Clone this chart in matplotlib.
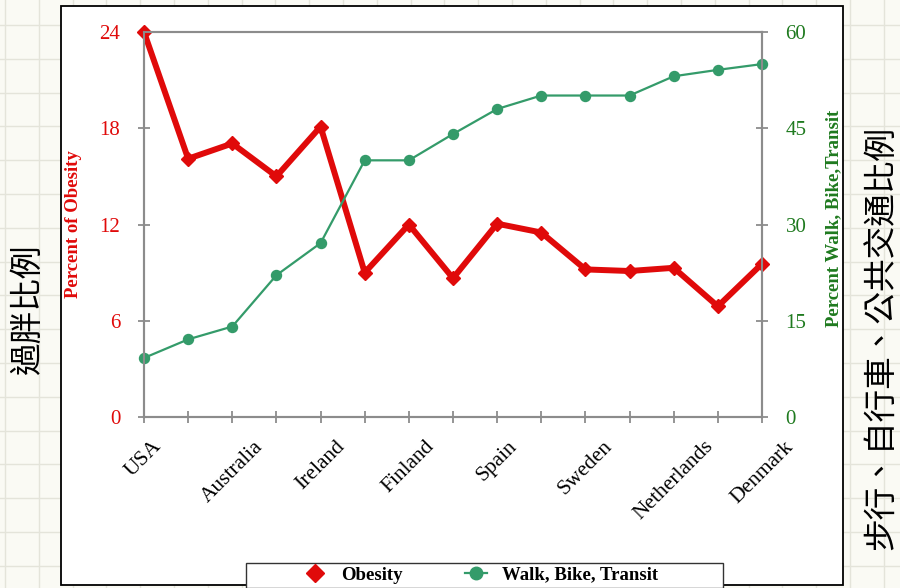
import numpy as np
import matplotlib.pyplot as plt
from matplotlib.patches import Rectangle
from matplotlib.lines import Line2D

countries = ["USA", "", "Australia", "", "Ireland", "", "Finland", "",
             "Spain", "", "Sweden", "", "Netherlands", "", "Denmark"]
obesity = [24.0, 16.1, 17.05, 15.0, 18.1, 9.0, 12.0, 8.65, 12.05, 11.5,
           9.2, 9.1, 9.3, 6.9, 9.55]
active = [9.2, 12.1, 14.1, 22.1, 27.1, 40.0, 40.0, 44.1, 48.0, 50.1,
          50.1, 50.1, 53.1, 54.1, 55.0]
left_ticks = [0, 6, 12, 18, 24]
right_ticks = [0, 15, 30, 45, 60]

RED = "#e00a0a"
GREEN = "#349b6a"
GREEN_TXT = "#1f7a1f"
AXGRAY = "#8c8c8c"
serif = "Liberation Serif"
cjk = ["Noto Sans CJK TC", "DejaVu Sans"]

W, H = 900, 588
fig = plt.figure(figsize=(9, 5.88), dpi=100)
fig.patch.set_facecolor("#fafaf4")

# graph-paper background
for gx in np.arange(5, W, 33.8):
    fig.add_artist(Line2D([gx / W, gx / W], [0, 1], color="#e4e4da", lw=1, zorder=-3))
for gy in np.arange(25, H, 33.8):
    fig.add_artist(Line2D([0, 1], [1 - gy / H, 1 - gy / H], color="#e4e4da", lw=1, zorder=-3))

# white chart box
fig.add_artist(Rectangle((61 / W, 1 - 585 / H), 782 / W, 579 / H, facecolor="white",
                         edgecolor="black", lw=1.3, zorder=-2))

ax = fig.add_axes([144 / W, 1 - 417 / H, 618 / W, 385 / H])
ax.set_facecolor("none")
ax2 = ax.twinx()

x = np.arange(len(countries))
ax.plot(x, obesity, color=RED, lw=4.3, marker="D", ms=7.5, zorder=3,
        solid_joinstyle="miter", clip_on=False)
ax2.plot(x, active, color=GREEN, lw=1.6, marker="o", ms=7.2, clip_on=False)

ax.set_xlim(0, len(countries) - 1)
ax.set_ylim(0, 24)
ax2.set_ylim(0, 60)
ax.set_yticks(left_ticks)
ax2.set_yticks(right_ticks)
ax.set_xticks(x)
ax.set_xticklabels(countries, rotation=45, ha="center", va="top",
                   fontsize=15.5, family=serif)

for a in (ax, ax2):
    for s in a.spines.values():
        s.set_color(AXGRAY)
        s.set_linewidth(1.5)

ax.tick_params(axis="x", direction="inout", length=8, width=1.3, color=AXGRAY, pad=10.5)
ax.tick_params(axis="y", direction="inout", length=8, width=1.3, color=AXGRAY,
               labelcolor=RED, labelsize=15, pad=13)
ax2.tick_params(axis="y", direction="inout", length=8, width=1.3, color=AXGRAY,
                labelcolor=GREEN_TXT, labelsize=15, pad=13)
for lab in ax.get_yticklabels() + ax2.get_yticklabels():
    lab.set_family(serif)

fig.text(73 / W, 1 - 224 / H, "Percent of Obesity", rotation=90, ha="center",
         va="center", color=RED, fontsize=13.5, fontweight="bold", family=serif)
fig.text(834 / W, 1 - 218 / H, "Percent Walk, Bike,Transit", rotation=90,
         ha="center", va="center", color=GREEN_TXT, fontsize=13.5,
         fontweight="bold", family=serif)

fig.text(28 / W, 1 - 310 / H, "過胖比例", rotation=90, ha="center", va="center",
         fontsize=23.5, family=cjk)
fig.text(882 / W, 1 - 338 / H, "步行、自行車、公共交通比例", rotation=90,
         ha="center", va="center", fontsize=23.5, family=cjk)

# legend: frame drawn separately, entries centred inside it
fig.add_artist(Rectangle((246 / W, 1 - 588 / H), 477 / W, 25 / H, facecolor="white",
                         edgecolor="#333333", lw=1.0, zorder=5))
handles = [Line2D([], [], color=RED, lw=0, marker="D", ms=9),
           Line2D([], [], color=GREEN, lw=1.6, marker="o", ms=9)]
leg = fig.legend(handles, ["Obesity", "Walk, Bike, Transit"], ncol=2,
                 loc="center", bbox_to_anchor=(481 / W, 1 - 575 / H),
                 frameon=False, handlelength=1.2, columnspacing=3.3,
                 handletextpad=0.8,
                 prop={"family": serif, "weight": "bold", "size": 13.5})
leg.set_zorder(6)

fig.savefig("out.png", dpi=100, facecolor=fig.get_facecolor())
